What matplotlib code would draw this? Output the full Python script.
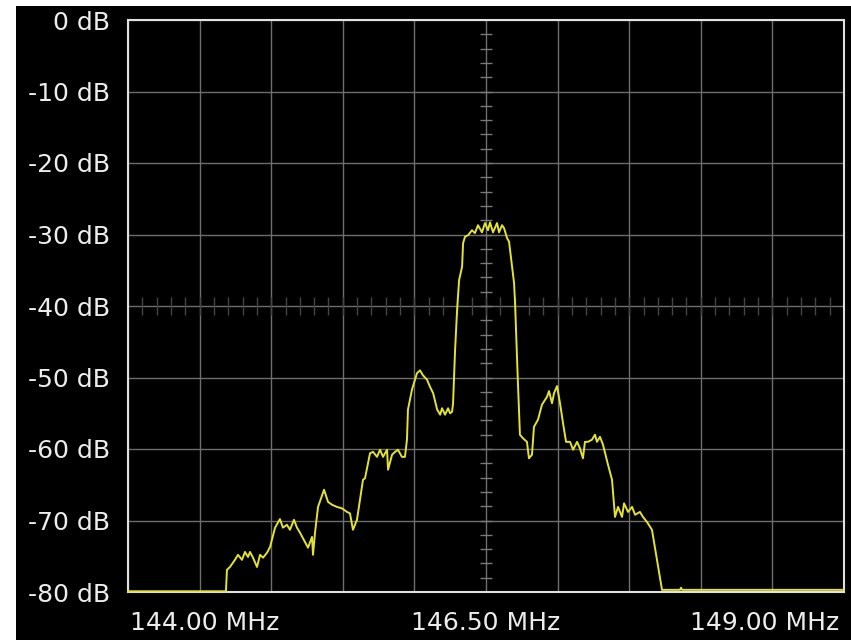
import numpy as np
import matplotlib
matplotlib.use('Agg')
from matplotlib import pyplot as plt
from matplotlib.patches import Rectangle
from matplotlib.transforms import ScaledTranslation

# spectrum trace, frequency in MHz and level in dB
freq_mhz = [144.000, 144.684, 144.691, 144.712, 144.747, 144.768, 144.796, 144.817, 144.838, 144.852,
            144.873, 144.901, 144.922, 144.943, 144.971, 144.992, 145.027, 145.061, 145.082, 145.110,
            145.131, 145.159, 145.180, 145.201, 145.236, 145.257, 145.285, 145.292, 145.306, 145.327,
            145.369, 145.397, 145.425, 145.459, 145.494, 145.529, 145.550, 145.571, 145.599, 145.620,
            145.641, 145.655, 145.690, 145.711, 145.739, 145.760, 145.781, 145.809, 145.816, 145.844,
            145.865, 145.885, 145.913, 145.934, 145.948, 145.955, 145.983, 146.018, 146.039, 146.060,
            146.088, 146.109, 146.131, 146.159, 146.180, 146.193, 146.214, 146.235, 146.249, 146.263,
            146.270, 146.284, 146.298, 146.312, 146.333, 146.340, 146.354, 146.375, 146.402, 146.423,
            146.444, 146.472, 146.493, 146.514, 146.528, 146.549, 146.577, 146.591, 146.612, 146.626,
            146.647, 146.661, 146.682, 146.696, 146.703, 146.723, 146.737, 146.758, 146.786, 146.800,
            146.821, 146.835, 146.863, 146.891, 146.926, 146.940, 146.961, 146.975, 146.996, 147.017,
            147.038, 147.059, 147.087, 147.108, 147.136, 147.156, 147.177, 147.191, 147.212, 147.240,
            147.261, 147.275, 147.296, 147.317, 147.352, 147.380, 147.401, 147.422, 147.450, 147.464,
            147.492, 147.520, 147.541, 147.575, 147.596, 147.624, 147.659, 147.694, 147.729, 147.855,
            147.862, 147.870, 149.000]
level_db = [-79.9, -79.9, -76.9, -76.5, -75.5, -74.8, -75.5, -74.4, -75.1, -74.4,
            -75.2, -76.5, -74.8, -75.2, -74.5, -73.7, -71.0, -69.8, -71.0, -70.6,
            -71.3, -69.9, -71.0, -71.7, -73.0, -73.8, -72.3, -74.8, -71.7, -68.1,
            -65.7, -67.4, -67.8, -68.1, -68.3, -68.8, -69.0, -71.3, -69.9, -67.1,
            -64.3, -64.1, -60.6, -60.4, -61.1, -60.1, -61.1, -60.1, -62.9, -60.8,
            -60.4, -60.1, -61.1, -61.1, -58.7, -54.5, -51.7, -49.4, -49.0, -49.7,
            -50.3, -51.3, -52.2, -54.5, -55.2, -54.3, -55.2, -54.3, -55.0, -54.8,
            -53.6, -46.2, -40.6, -36.4, -34.5, -31.2, -30.3, -30.1, -29.4, -29.8,
            -28.7, -29.7, -28.4, -29.4, -28.3, -29.7, -28.4, -29.7, -28.7, -29.1,
            -30.5, -31.0, -34.5, -36.8, -39.6, -50.8, -58.0, -58.5, -59.0, -61.3,
            -60.8, -56.9, -55.9, -53.8, -52.7, -51.9, -53.6, -52.2, -51.2, -53.6,
            -56.4, -59.0, -59.0, -60.1, -59.0, -59.9, -61.3, -59.0, -59.0, -58.7,
            -58.0, -59.0, -58.3, -59.4, -62.2, -64.3, -69.5, -68.1, -69.5, -67.6,
            -68.8, -68.1, -69.2, -68.8, -69.5, -70.2, -71.3, -75.5, -79.7, -79.7,
            -79.4, -79.7, -79.7]

x_ticks = [144.0, 146.5, 149.0]
x_labels = ['144.00 MHz', '146.50 MHz', '149.00 MHz']
y_ticks = [0, -10, -20, -30, -40, -50, -60, -70, -80]
y_labels = ['0 dB', '-10 dB', '-20 dB', '-30 dB', '-40 dB', '-50 dB', '-60 dB', '-70 dB', '-80 dB']

f_lo, f_hi = 144.0, 149.0
db_lo, db_hi = -80, 0
f_center, db_center = 146.5, -40

fig = plt.figure(figsize=(8.51, 6.40), dpi=100, facecolor='white')
# black screen area (thin white margin on top and left)
fig.patches.append(Rectangle((16 / 851, 0), 1, 1 - 6 / 640, transform=fig.transFigure,
                             facecolor='black', edgecolor='none', zorder=-10))

ax = fig.add_axes([128 / 851, 48 / 640, 716 / 851, 572 / 640])
ax.set_zorder(5)
ax.set_facecolor('black')
ax.set_xlim(f_lo, f_hi)
ax.set_ylim(db_lo, db_hi)

# graticule
for f in np.arange(f_lo, f_hi + 0.01, 0.5):
    ax.axvline(f, color='#6e6e6e', lw=1.0, zorder=1)
for d in np.arange(db_lo, db_hi + 1, 10):
    ax.axhline(d, color='#6e6e6e', lw=1.0, zorder=1)

# small ticks along the centre cross
minor_f = np.arange(f_lo + 0.1, f_hi, 0.1)
ax.plot(minor_f, np.full_like(minor_f, db_center), ls='none', marker='|',
        ms=13, mew=1.0, color='#444444', zorder=1)
minor_db = np.arange(db_lo + 2, db_hi, 2)
ax.plot(np.full_like(minor_db, f_center, dtype=float), minor_db, ls='none', marker='_',
        ms=8, mew=1.0, color='#7a7a7a', zorder=1)

ax.plot(freq_mhz, level_db, color='#e3e332', lw=1.4, zorder=3, clip_on=False)

for s in ax.spines.values():
    s.set_color('#e0e0e0')
    s.set_linewidth(1.5)
    s.set_zorder(2)

ax.set_xticks(x_ticks)
ax.set_xticklabels(x_labels)
ax.set_yticks(y_ticks)
ax.set_yticklabels(y_labels)
ax.tick_params(length=0, colors='#ececec', labelsize=18, pad=13)
ax.tick_params(axis='x', pad=14)
shifts = [2, 0, -5]
for lab, ha, dx in zip(ax.get_xticklabels(), ['left', 'center', 'right'], shifts):
    lab.set_horizontalalignment(ha)
    lab.set_transform(lab.get_transform() + ScaledTranslation(dx / 100, 0, fig.dpi_scale_trans))

fig.savefig('out.png', dpi=100, facecolor=fig.get_facecolor())
